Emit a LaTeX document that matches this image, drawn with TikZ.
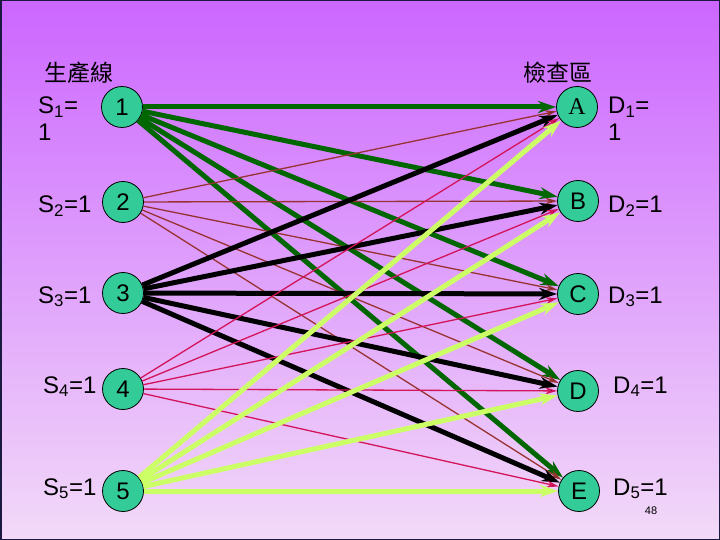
\documentclass[tikz,border=0pt]{standalone}
\usepackage{fontspec}
\setmainfont{Liberation Sans}
\newfontfamily\cjk{Noto Sans CJK TC}
\newfontfamily\timesA{Liberation Serif}
\usepackage{tikz}
\usetikzlibrary{arrows.meta}
\definecolor{bgtop}{HTML}{CC66FF}
\definecolor{bgbot}{HTML}{F2DAF8}
\definecolor{framec}{HTML}{1A1A40}
\definecolor{stnfill}{HTML}{33CC99}
\definecolor{flowgreen}{HTML}{006600}
\definecolor{flowbrown}{HTML}{993333}
\definecolor{flowpink}{HTML}{D4145A}
\definecolor{flowlime}{HTML}{CCFF66}

\begin{document}
\begin{tikzpicture}[x=1pt, y=-1pt,
  stn/.style={circle, draw=black, line width=0.8pt, fill=stnfill, minimum size=41pt, inner sep=0pt, font=\fontsize{24}{28}\selectfont},
  lbl/.style={inner sep=0pt, align=left, font=\fontsize{24}{27}\selectfont},
  hdr/.style={inner sep=0pt, font=\cjk\fontsize{23}{26}\selectfont},
  heavy/.style={line width=5pt, -{Stealth[length=18pt, width=12pt]}},
  light/.style={line width=1.3pt, -{Stealth[length=12pt, width=7pt]}},
  fromone/.style={heavy, draw=flowgreen},
  fromtwo/.style={light, draw=flowbrown},
  fromthree/.style={heavy, draw=black},
  fromfour/.style={light, draw=flowpink},
  fromfive/.style={heavy, draw=flowlime}]
% background and frame
\shade[top color=bgtop, bottom color=bgbot] (0,0) rectangle (720,540);
\draw[framec, line width=1.5pt] (0.75,0.75) rectangle (719.25,539.25);
% production lines
\node[stn] (s1) at (122,107) {1};
\node[stn] (s2) at (123,202) {2};
\node[stn] (s3) at (123,293) {3};
\node[stn] (s4) at (123,389) {4};
\node[stn] (s5) at (123,491) {5};
% inspection areas
\node[stn] (dA) at (577,107) {\timesA A};
\node[stn] (dB) at (578,201) {B};
\node[stn] (dC) at (578,294) {C};
\node[stn] (dD) at (578,391) {D};
\node[stn] (dE) at (579,491) {E};
% headings and supplies / demands
\node[hdr] (hs) at (79,73) {生產線};
\node[hdr] (hd) at (558,73) {檢查區};
\node[lbl, anchor=north west] (ls1) at (38,97) {S\textsubscript{1}=\\1};
\node[lbl, anchor=base west] (ls2) at (38,213) {S\textsubscript{2}=1};
\node[lbl, anchor=base west] (ls3) at (38,303) {S\textsubscript{3}=1};
\node[lbl, anchor=base west] (ls4) at (43,393) {S\textsubscript{4}=1};
\node[lbl, anchor=base west] (ls5) at (43,495) {S\textsubscript{5}=1};
\node[lbl, anchor=north west] (ld1) at (608,97) {D\textsubscript{1}=\\1};
\node[lbl, anchor=base west] (ld2) at (608,213) {D\textsubscript{2}=1};
\node[lbl, anchor=base west] (ld3) at (608,303) {D\textsubscript{3}=1};
\node[lbl, anchor=base west] (ld4) at (613,393) {D\textsubscript{4}=1};
\node[lbl, anchor=base west] (ld5) at (613,495) {D\textsubscript{5}=1};
\node[inner sep=0pt, font=\fontsize{11}{13}\selectfont] (pg) at (651,511) {48};
% flows
\path[fromone]   (s1) edge (dA) edge (dB) edge (dC) edge (dD) edge (dE);
\path[fromtwo]   (s2) edge (dA) edge (dB) edge (dC) edge (dD) edge (dE);
\path[fromthree] (s3) edge (dA) edge (dB) edge (dC) edge (dD) edge (dE);
\path[fromfour]  (s4) edge (dA) edge (dB) edge (dC) edge (dD) edge (dE);
\path[fromfive]  (s5) edge (dA) edge (dB) edge (dC) edge (dD) edge (dE);
\end{tikzpicture}
\end{document}
